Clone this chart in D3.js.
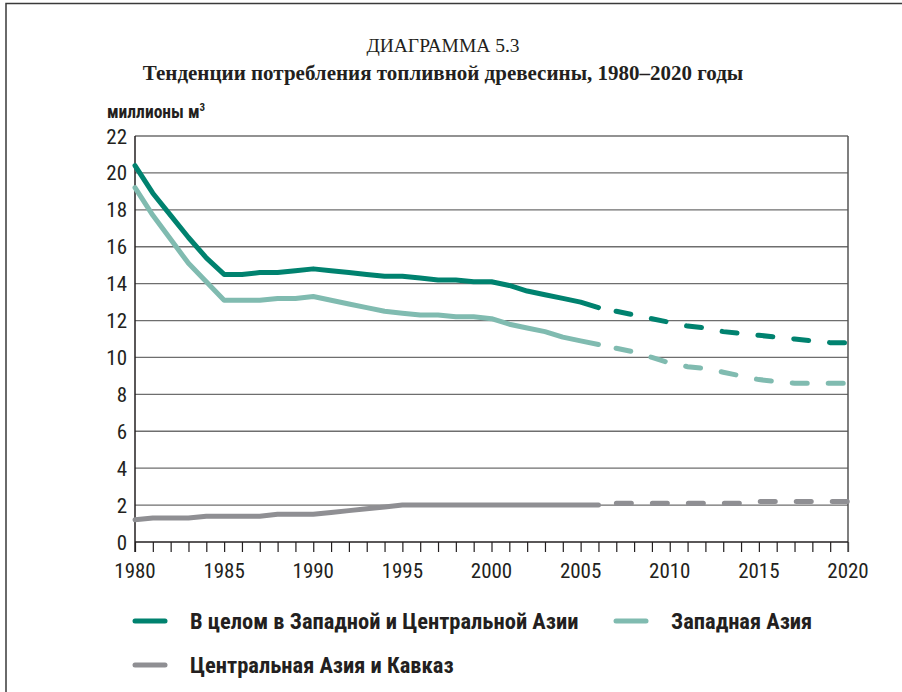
<!DOCTYPE html>
<html>
<head>
<meta charset="utf-8">
<script src="https://cdn.jsdelivr.net/npm/d3@7"></script>
<style>
  body { margin: 0; background: #fff; }
  svg { display: block; }
  .tick-lbl { font-family: "Liberation Sans Narrow", "Roboto Condensed", "Open Sans", sans-serif; font-size: 21px; fill: #231f20; }
</style>
</head>
<body>
<div id="chart"></div>
<script>
var years = [1980,1981,1982,1983,1984,1985,1986,1987,1988,1989,1990,1991,1992,1993,1994,1995,1996,1997,1998,1999,2000,
             2001,2002,2003,2004,2005,2006,2007,2008,2009,2010,2011,2012,2013,2014,2015,2016,2017,2018,2019,2020];
var lastActual = 2006;

var total   = [20.4,18.9,17.7,16.5,15.4,14.5,14.5,14.6,14.6,14.7,14.8,14.7,14.6,14.5,14.4,14.4,14.3,14.2,14.2,14.1,14.1,
               13.9,13.6,13.4,13.2,13.0,12.7,12.5,12.3,12.1,11.9,11.7,11.6,11.4,11.3,11.2,11.1,11.0,10.9,10.8,10.8];
var western = [19.2,17.7,16.4,15.1,14.1,13.1,13.1,13.1,13.2,13.2,13.3,13.1,12.9,12.7,12.5,12.4,12.3,12.3,12.2,12.2,12.1,
               11.8,11.6,11.4,11.1,10.9,10.7,10.5,10.3,10.0,9.7,9.5,9.4,9.2,9.0,8.8,8.7,8.6,8.6,8.6,8.6];
var central = [1.2,1.3,1.3,1.3,1.4,1.4,1.4,1.4,1.5,1.5,1.5,1.6,1.7,1.8,1.9,2.0,2.0,2.0,2.0,2.0,2.0,
               2.0,2.0,2.0,2.0,2.0,2.0,2.1,2.1,2.1,2.1,2.1,2.1,2.1,2.1,2.2,2.2,2.2,2.2,2.2,2.2];

var seriesNames = ["В целом в Западной и Центральной Азии", "Западная Азия", "Центральная Азия и Кавказ"];
var seriesColors = ["#00826f", "#80bbb0", "#8f8f93"];
var yTicks = [0,2,4,6,8,10,12,14,16,18,20,22];
var xLabels = [1980,1985,1990,1995,2000,2005,2010,2015,2020];

var W = 902, H = 692;
var svg = d3.select("#chart").append("svg").attr("width", W).attr("height", H);

// frame (top and left only visible)
svg.append("path").attr("d", "M6,692V3.5H902").attr("fill", "none").attr("stroke", "#3a3a3a").attr("stroke-width", 1.5);

// titles
svg.append("text").attr("x", 443).attr("y", 52).attr("text-anchor", "middle")
  .style("font-family", "'Liberation Serif', 'DejaVu Serif', serif").style("font-size", "19.5px").style("fill", "#231f20")
  .text("ДИАГРАММА 5.3");
svg.append("text").attr("x", 443).attr("y", 80).attr("text-anchor", "middle")
  .style("font-family", "'Liberation Serif', 'DejaVu Serif', serif").style("font-size", "21px").style("font-weight", "bold").style("fill", "#231f20")
  .text("Тенденции потребления топливной древесины, 1980–2020 годы");

var unit = svg.append("text").attr("x", 107).attr("y", 118)
  .style("font-family", "'Liberation Sans Narrow', 'Roboto Condensed', sans-serif").style("font-size", "17.5px").style("font-weight", "bold").style("fill", "#231f20");
unit.append("tspan").text("миллионы м");
unit.append("tspan").attr("dy", -7).style("font-size", "11px").text("3");

var x = d3.scaleLinear().domain([1980, 2020]).range([135, 848]);
var y = d3.scaleLinear().domain([0, 22]).range([542, 136]);

// gridlines
svg.append("g").selectAll("line").data(yTicks.filter(function(d) { return d > 0; })).enter().append("line")
  .attr("x1", x(1980)).attr("x2", x(2020))
  .attr("y1", function(d) { return y(d); }).attr("y2", function(d) { return y(d); })
  .attr("stroke", "#6e6e6e").attr("stroke-width", 1.3);

// y labels
svg.append("g").selectAll("text").data(yTicks).enter().append("text")
  .attr("class", "tick-lbl")
  .attr("x", 127).attr("y", function(d) { return y(d) + 7.5; })
  .attr("text-anchor", "end")
  .text(function(d) { return d; });

// x axis with yearly ticks
var xAxis = d3.axisBottom(x).tickValues(years).tickSize(10).tickFormat("");
var gx = svg.append("g").attr("transform", "translate(0," + y(0) + ")").call(xAxis);
gx.select(".domain").remove();
gx.selectAll(".tick line").attr("stroke", "#231f20").attr("stroke-width", 1.2);

svg.append("g").selectAll("text").data(xLabels).enter().append("text")
  .attr("class", "tick-lbl")
  .attr("x", function(d) { return x(d); }).attr("y", 578)
  .attr("text-anchor", "middle")
  .text(function(d) { return d; });

// axes frame lines
svg.append("line").attr("x1", x(1980)).attr("x2", x(1980)).attr("y1", y(22)).attr("y2", y(0) + 10)
  .attr("stroke", "#231f20").attr("stroke-width", 1.5);
svg.append("line").attr("x1", x(2020)).attr("x2", x(2020)).attr("y1", y(22)).attr("y2", y(0) + 10)
  .attr("stroke", "#555").attr("stroke-width", 1.5);
svg.append("line").attr("x1", x(1980)).attr("x2", x(2020)).attr("y1", y(0)).attr("y2", y(0))
  .attr("stroke", "#231f20").attr("stroke-width", 1.5);

// series
var allSeries = [total, western, central];
var line = d3.line().x(function(d) { return x(d[0]); }).y(function(d) { return y(d[1]); });

[2, 1, 0].forEach(function(si) {
  var pts = years.map(function(yr, i) { return [yr, allSeries[si][i]]; });
  var solid = pts.filter(function(p) { return p[0] <= lastActual; });
  var dashed = pts.filter(function(p) { return p[0] >= lastActual; });
  svg.append("path").attr("d", line(solid)).attr("fill", "none")
    .attr("stroke", seriesColors[si]).attr("stroke-width", 5).attr("stroke-linejoin", "round").attr("stroke-linecap", "round");
  svg.append("path").attr("d", line(dashed)).attr("fill", "none")
    .attr("stroke", seriesColors[si]).attr("stroke-width", 5)
    .attr("stroke-dasharray", "15,21").attr("stroke-dashoffset", -18).attr("stroke-linecap", "round");
});

// legend
var legendPos = [[133, 621], [614, 621], [133, 665]];
seriesNames.forEach(function(name, i) {
  var p = legendPos[i];
  svg.append("line").attr("x1", p[0] + 2).attr("x2", p[0] + 32).attr("y1", p[1]).attr("y2", p[1])
    .attr("stroke", seriesColors[i]).attr("stroke-width", 5).attr("stroke-linecap", "round");
  svg.append("text").attr("x", p[0] + 57).attr("y", p[1] + 8)
    .style("font-family", "'Liberation Sans Narrow', 'Roboto Condensed', 'Open Sans', sans-serif")
    .style("font-size", "22.5px").style("font-weight", "bold").style("fill", "#231f20")
    .text(name);
});
</script>
</body>
</html>
